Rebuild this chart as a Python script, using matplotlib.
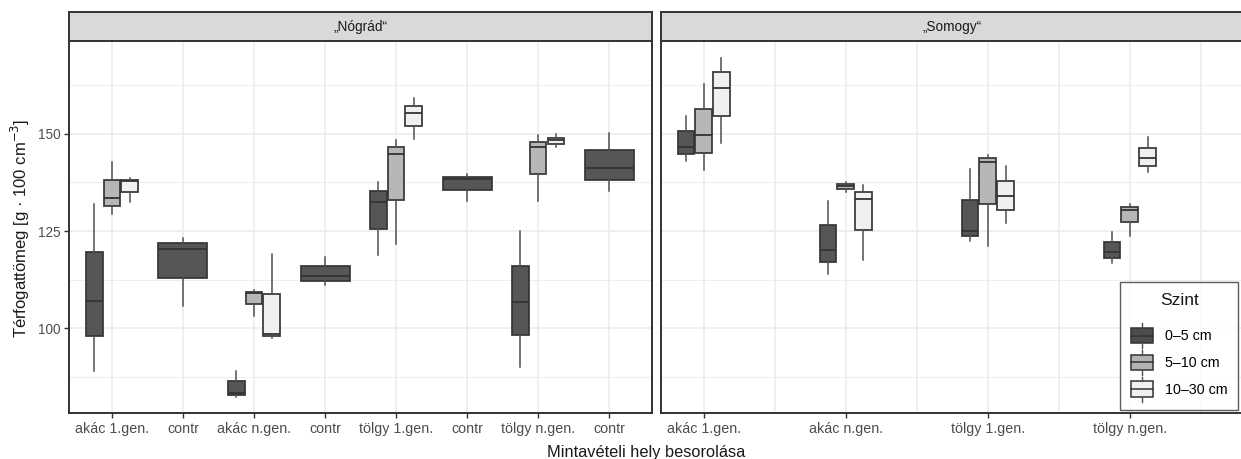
import matplotlib
matplotlib.use("Agg")
import matplotlib.pyplot as plt
from matplotlib.patches import Rectangle, Patch
from matplotlib.lines import Line2D
from matplotlib.legend_handler import HandlerBase

plt.rcParams['font.family'] = ['Liberation Sans', 'DejaVu Sans']

# ---------------- data ----------------
levels = ["0–5 cm", "5–10 cm", "10–30 cm"]
level_colors = ["#4d4d4d", "#b3b3b3", "#f0f0f0"]

panels = ["„Nógrád“", "„Somogy“"]

# Nógrád panel: 8 categories
nog_categories = ["akác 1.gen.", "contr", "akác n.gen.", "contr",
                  "tölgy 1.gen.", "contr", "tölgy n.gen.", "contr"]
nog_whislo = {
    0: [89.0, 129.4, 132.4], 1: [105.6], 2: [82.4, 103.2, 97.6], 3: [111.0],
    4: [118.9, 121.6, 148.7], 5: [132.8], 6: [90.1, 132.8, 146.7], 7: [135.3]}
nog_q1 = {
    0: [98.0, 131.5, 135.0], 1: [112.9], 2: [82.8, 106.2, 98.0], 3: [112.2],
    4: [125.6, 133.0, 151.9], 5: [135.6], 6: [98.3, 139.6, 147.4], 7: [138.2]}
nog_med = {
    0: [107.1, 133.5, 138.0], 1: [120.3], 2: [83.3, 109.0, 98.45], 3: [113.5],
    4: [132.6, 144.8, 155.3], 5: [138.4], 6: [106.7, 146.5, 148.5], 7: [141.2]}
nog_q3 = {
    0: [119.6, 138.2, 138.2], 1: [121.9], 2: [86.4, 109.3, 108.8], 3: [115.9],
    4: [135.2, 146.6, 157.2], 5: [139.0], 6: [115.9, 148.0, 149.0], 7: [145.9]}
nog_whishi = {
    0: [132.0, 142.8, 138.6], 1: [123.2], 2: [89.1, 109.7, 119.1], 3: [118.2],
    4: [137.7, 148.3, 159.2], 5: [139.6], 6: [124.9, 149.7, 150.0], 7: [150.3]}

# Somogy panel: 4 labelled categories
som_categories = ["akác 1.gen.", "", "akác n.gen.", "", "tölgy 1.gen.", "", "tölgy n.gen.", ""]
som_whislo = {0: [143.1, 140.7, 147.6], 2: [113.9, 135.1, 117.6],
              4: [122.5, 121.2, 127.0], 6: [116.7, 123.8, 140.1]}
som_q1 = {0: [144.9, 145.2, 154.6], 2: [117.0, 135.7, 125.3],
          4: [123.6, 132.0, 130.4], 6: [118.0, 127.2, 141.8]}
som_med = {0: [146.7, 149.7, 161.9], 2: [120.0, 136.6, 133.2],
           4: [124.9, 142.7, 134.1], 6: [119.6, 130.4, 143.7]}
som_q3 = {0: [150.8, 156.3, 165.8], 2: [126.6, 137.1, 135.0],
          4: [133.0, 143.7, 137.9], 6: [122.3, 131.3, 146.3]}
som_whishi = {0: [154.6, 162.9, 169.5], 2: [132.8, 137.5, 136.9],
              4: [141.0, 144.6, 141.8], 6: [124.7, 132.0, 149.1]}

y_ticks = [100, 125, 150]
y_minor = [87.5, 112.5, 137.5, 162.5]
y_lim = (78.1, 173.9)

xlabel = "Mintavételi hely besorolása"
ylabel = "Térfogattömeg [g · 100 cm$^{-3}$]"

# ---------------- figure ----------------
W, H = 1241, 459
fig = plt.figure(figsize=(W / 100, H / 100), dpi=100)

def fx(px):
    return px / W

def fy(py):
    return 1 - py / H

panel_top, panel_bot = 41, 413.3
strip_top = 12
panel_lefts = [69.3, 661.0]
panel_w = 582.5

edge = "#333333"
grid_col = "#ebebeb"
dodge = 0.25
box_w = 0.235
single_w = 0.69


def draw_panel(ax, cats, whislo, q1, med, q3, whishi, show_all_ticks):
    for ci in sorted(med.keys()):
        n = len(med[ci])
        for li in range(n):
            if n == 1:
                pos, w = ci + 1, single_w
            else:
                pos, w = ci + 1 + (li - 1) * dodge, box_w
            st = dict(med=med[ci][li], q1=q1[ci][li], q3=q3[ci][li],
                      whislo=whislo[ci][li], whishi=whishi[ci][li], fliers=[])
            ax.bxp([st], positions=[pos], widths=[w], patch_artist=True,
                   showcaps=False, showfliers=False, manage_ticks=False,
                   boxprops=dict(facecolor=level_colors[li], edgecolor=edge,
                                 linewidth=1.3, alpha=0.95),
                   medianprops=dict(color=edge, linewidth=1.3),
                   whiskerprops=dict(color="#505050", linewidth=1.1))
    ax.set_xlim(0.4, len(cats) + 0.6)
    ax.set_ylim(*y_lim)
    if show_all_ticks:
        ax.set_xticks(range(1, len(cats) + 1))
        ax.set_xticklabels(cats)
    else:
        ax.set_xticks([i + 1 for i, c in enumerate(cats) if c])
        ax.set_xticklabels([c for c in cats if c])
        ax.set_xticks([i + 1 for i, c in enumerate(cats) if not c], minor=True)
    ax.set_yticks(y_ticks)
    ax.set_yticks(y_minor, minor=True)
    ax.grid(True, which="major", color=grid_col, linewidth=1.1, zorder=0)
    ax.grid(True, which="minor", axis="y", color=grid_col, linewidth=0.6, zorder=0)
    if not show_all_ticks:
        ax.grid(True, which="minor", axis="x", color=grid_col, linewidth=1.1, zorder=0)
    ax.set_axisbelow(True)
    ax.tick_params(axis="both", which="major", length=3.5, width=1.0, color=edge,
                   labelcolor="#4d4d4d", pad=2.5)
    ax.tick_params(axis="x", which="major", labelsize=10.3)
    ax.tick_params(axis="y", which="major", labelsize=9.8)
    ax.tick_params(axis="both", which="minor", length=0)
    for s in ax.spines.values():
        s.set_color(edge)
        s.set_linewidth(1.4)


axes = []
for pi, left in enumerate(panel_lefts):
    ax = fig.add_axes([fx(left), fy(panel_bot), fx(panel_w), (panel_bot - panel_top) / H])
    axes.append(ax)
    sax = fig.add_axes([fx(left), fy(panel_top), fx(panel_w), (panel_top - strip_top) / H])
    sax.set_xticks([])
    sax.set_yticks([])
    sax.set_facecolor("#d9d9d9")
    for s in sax.spines.values():
        s.set_color(edge)
        s.set_linewidth(1.4)
    sax.text(0.5, 0.5, panels[pi], ha="center", va="center", fontsize=9.8,
             color="#1a1a1a", transform=sax.transAxes)

draw_panel(axes[0], nog_categories, nog_whislo, nog_q1, nog_med, nog_q3, nog_whishi, True)
draw_panel(axes[1], som_categories, som_whislo, som_q1, som_med, som_q3, som_whishi, False)
axes[1].tick_params(axis="y", which="major", length=0, labelleft=False)

fig.text(fx(646), fy(452), xlabel, ha="center", va="center", fontsize=11.8, color="#1a1a1a")
fig.text(fx(20), fy(228), ylabel, ha="center", va="center", rotation=90,
         fontsize=12, color="#1a1a1a")


# ---------------- legend ----------------
class BoxHandler(HandlerBase):
    def create_artists(self, legend, orig_handle, xdescent, ydescent, width, height,
                       fontsize, trans):
        x0, y0 = -xdescent, -ydescent
        fc = orig_handle.get_facecolor()
        r = Rectangle((x0, y0 + 0.1 * height), width, 0.8 * height,
                      facecolor=fc, edgecolor=edge, linewidth=1.1, transform=trans)
        med = Line2D([x0, x0 + width], [y0 + 0.5 * height] * 2, color=edge,
                     linewidth=1.1, transform=trans)
        wt = Line2D([x0 + width / 2] * 2, [y0 + 0.9 * height, y0 + 1.15 * height],
                    color="#505050", linewidth=1.0, transform=trans)
        wb = Line2D([x0 + width / 2] * 2, [y0 - 0.15 * height, y0 + 0.1 * height],
                    color="#505050", linewidth=1.0, transform=trans)
        return [r, med, wt, wb]


handles = [Patch(facecolor=c, edgecolor=edge) for c in level_colors]
leg = fig.legend(handles, levels, title="Szint", loc="lower right",
                 bbox_to_anchor=(fx(1238), fy(410)), handler_map={Patch: BoxHandler()},
                 fontsize=10.3, title_fontsize=12.5, frameon=True, fancybox=False,
                 handlelength=1.55, handleheight=1.75, handletextpad=0.8,
                 labelspacing=0.5, borderpad=0.75, borderaxespad=0.0)
leg.get_frame().set_edgecolor(edge)
leg.get_frame().set_linewidth(1.0)
leg.get_title().set_color("#1a1a1a")
leg._legend_box.sep = 13

fig.savefig("out.png", dpi=100)
